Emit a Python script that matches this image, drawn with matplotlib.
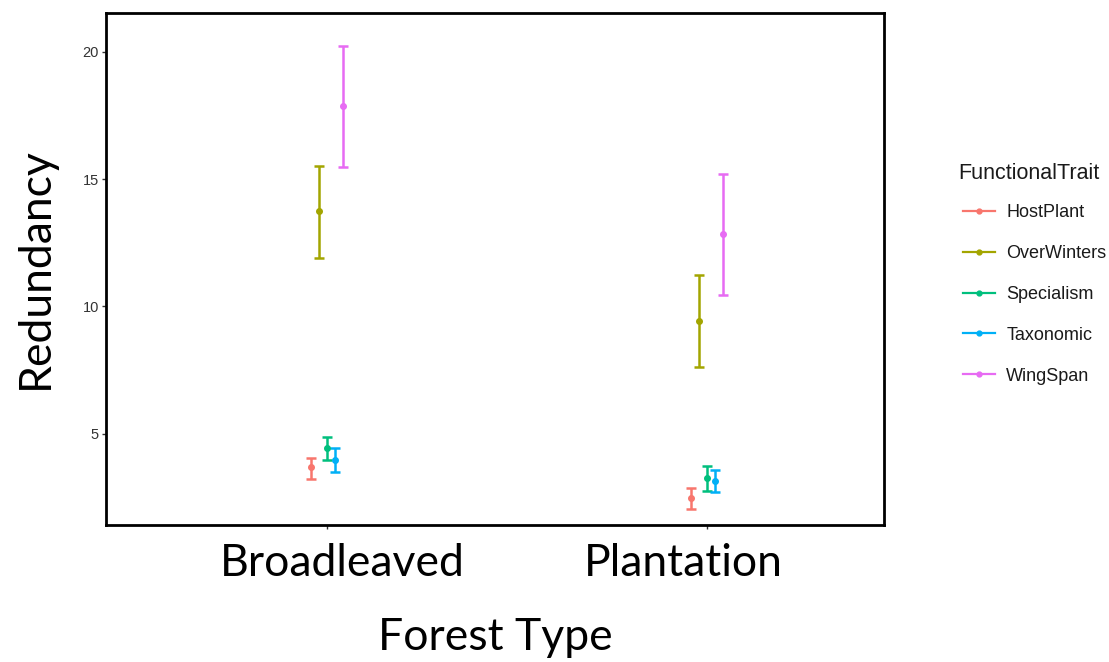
import matplotlib.pyplot as plt
from matplotlib.lines import Line2D

forest_types = ["Broadleaved", "Plantation"]
traits = ["HostPlant", "OverWinters", "Specialism", "Taxonomic", "WingSpan"]
colors = ["#F8766D", "#A3A500", "#00BF7D", "#00B0F6", "#E76BF3"]

# mean redundancy per trait, [Broadleaved, Plantation]
mean_vals = {
    "HostPlant": [3.67, 2.49],
    "OverWinters": [13.75, 9.44],
    "Specialism": [4.45, 3.27],
    "Taxonomic": [3.97, 3.14],
    "WingSpan": [17.88, 12.85],
}
lower_vals = {
    "HostPlant": [3.22, 2.04],
    "OverWinters": [11.92, 7.61],
    "Specialism": [3.97, 2.75],
    "Taxonomic": [3.51, 2.70],
    "WingSpan": [15.49, 10.45],
}
upper_vals = {
    "HostPlant": [4.06, 2.88],
    "OverWinters": [15.53, 11.24],
    "Specialism": [4.88, 3.71],
    "Taxonomic": [4.43, 3.58],
    "WingSpan": [20.24, 15.21],
}
y_ticks = [5, 10, 15, 20]

W, H = 1109, 662
fig = plt.figure(figsize=(W / 100, H / 100), dpi=100)
ax = fig.add_axes([106 / W, 1 - 525 / H, (884 - 106) / W, (525 - 13) / H])

dodge = 0.021
for k, (trait, col) in enumerate(zip(traits, colors)):
    xs = [i + (k - 2) * dodge for i in range(len(forest_types))]
    m = mean_vals[trait]
    lo = [a - b for a, b in zip(m, lower_vals[trait])]
    hi = [b - a for a, b in zip(m, upper_vals[trait])]
    ax.errorbar(xs, m, yerr=[lo, hi], fmt="o", ms=4, color=col,
                ecolor=col, elinewidth=1.8, capsize=3.5, capthick=1.8)

ax.set_xlim(-0.582, 1.465)
ax.set_ylim(1.41, 21.53)
ax.set_xticks(range(len(forest_types)))
ax.set_xticklabels([])
ax.set_yticks(y_ticks)
ax.set_yticklabels([str(t) for t in y_ticks], fontsize=10.5, color="#333333",
                   family="Liberation Sans")
ax.tick_params(axis="both", length=3, width=1, color="#333333", pad=2)
for s in ax.spines.values():
    s.set_linewidth(2)
    s.set_color("black")

# category labels and axis titles (Calibri-like overlay text)
big = dict(family="Lato", fontsize=32, color="black")
fig.text(342 / W, 1 - 563 / H, "Broadleaved", ha="center", va="center", **big)
fig.text(683 / W, 1 - 563 / H, "Plantation", ha="center", va="center", **big)
fig.text(495 / W, 1 - 638 / H, "Forest Type", ha="center", va="center", **big)
fig.text(35 / W, 1 - 268 / H, "Redundancy", ha="center", va="center",
         rotation=90, **big)

# legend: title drawn separately so its gap to the first key matches
fig.text(958 / W, 1 - 174 / H, "FunctionalTrait", ha="left", va="center",
         family="Liberation Sans", fontsize=15.5, color="#1a1a1a")
handles = [Line2D([0], [0], color=c, lw=1.6, marker="o", ms=3.5) for c in colors]
leg = fig.legend(handles, traits, loc="upper left",
                 bbox_to_anchor=(947 / W, 1 - 188 / H), frameon=False,
                 prop={"family": "Liberation Sans", "size": 13},
                 handlelength=1.78, labelspacing=1.32, handletextpad=0.6)
for t in leg.get_texts():
    t.set_color("#1a1a1a")

fig.savefig("out.png", dpi=100)
